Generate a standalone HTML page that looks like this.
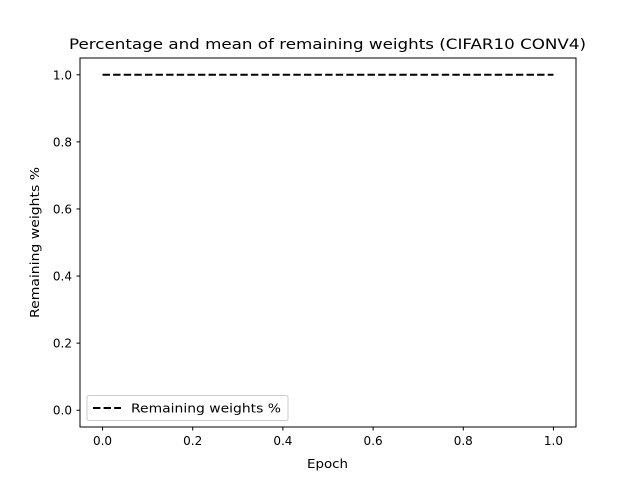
<!DOCTYPE html>
<html><head><meta charset="utf-8"><style>
body{margin:0;background:#fff;}
svg text{font-family:"DejaVu Sans","Liberation Sans",sans-serif;fill:#000;}
</style></head><body>
<svg width="640" height="480" viewBox="0 0 640 480">
<rect width="640" height="480" fill="#fff"/>
<text x="69" y="49" font-size="14.4" textLength="517" lengthAdjust="spacingAndGlyphs">Percentage and mean of remaining weights (CIFAR10 CONV4)</text>
<g id="plot"></g>
<rect x="80" y="58" width="496" height="369" fill="none" stroke="#000" stroke-width="1"/>
<text x="307" y="468" font-size="12" textLength="41" lengthAdjust="spacingAndGlyphs">Epoch</text>
<text transform="translate(39,318) rotate(-90)" font-size="12" textLength="151" lengthAdjust="spacingAndGlyphs">Remaining weights %</text>
<g>
<rect x="87" y="395.5" width="201" height="25" rx="2" fill="#fff" fill-opacity="0.8" stroke="#ccc"/>
<line x1="93" y1="408" x2="121" y2="408" stroke="#000" stroke-width="2" stroke-dasharray="7.4,3.2"/>
<text x="131" y="412.5" font-size="12" textLength="150" lengthAdjust="spacingAndGlyphs">Remaining weights %</text>
</g>
</svg>
<script>
const xTicks=[0,0.2,0.4,0.6,0.8,1.0];
const yTicks=[0,0.2,0.4,0.6,0.8,1.0];
const epochs=[0,1];
const remaining=[1.0,1.0];
const NS="http://www.w3.org/2000/svg";
const g=document.getElementById('plot');
function xs(v){return 80+(v+0.05)/1.1*496;}
function ys(v){return 427-(v+0.05)/1.1*369;}
function mk(t,a){const e=document.createElementNS(NS,t);for(const k in a)e.setAttribute(k,a[k]);g.appendChild(e);return e;}
xTicks.forEach(v=>{
 const l=mk('line',{x1:xs(v),x2:xs(v),y1:427,y2:430.5,stroke:'#000'});
 
 
 const t=mk('text',{x:xs(v),y:445,'font-size':12,'text-anchor':'middle'});
 t.textContent=v.toFixed(1);
 
 
});
yTicks.forEach(v=>{
 const l=mk('line',{x1:76.5,x2:80,y1:ys(v),y2:ys(v),stroke:'#000'});
 
 
 const t=mk('text',{x:72,y:ys(v)+4.5,'font-size':12,'text-anchor':'end'});
 t.textContent=v.toFixed(1);
 
 
});
const pts=epochs.map((e,i)=>xs(e)+','+ys(remaining[i])).join(' ');
const pl=mk('polyline',{points:pts,fill:'none',stroke:'#000','stroke-width':2,'stroke-dasharray':'7.4,3.2'});


</script>
</body></html>
